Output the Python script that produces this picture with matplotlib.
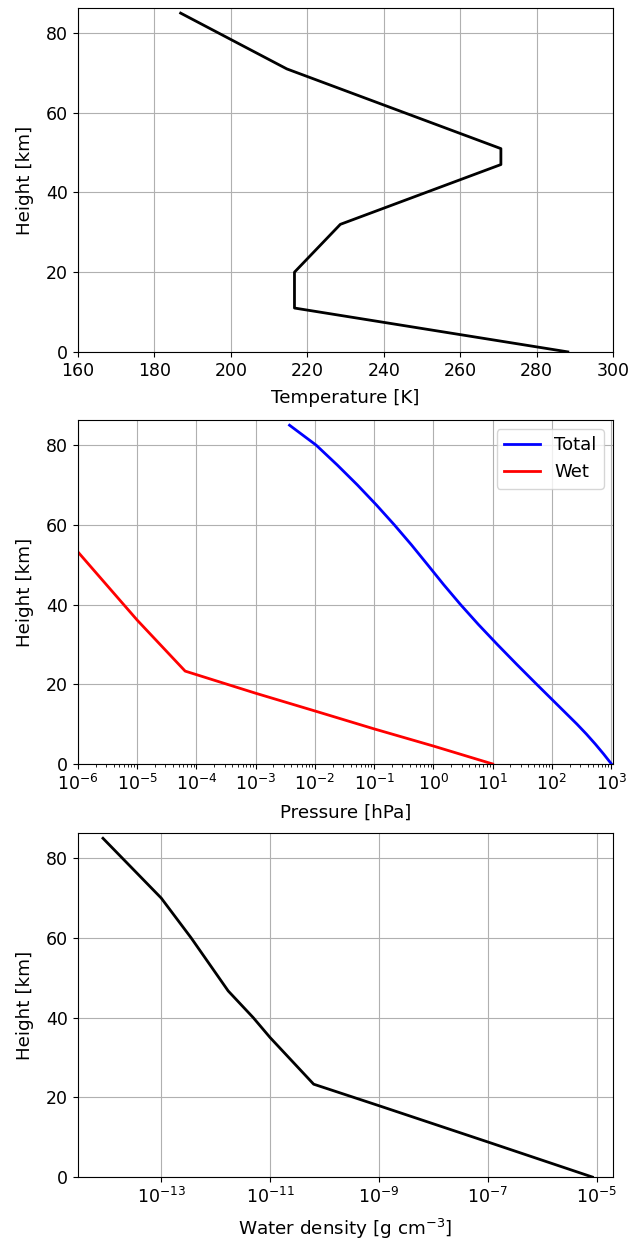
import matplotlib
matplotlib.use('Agg')
import matplotlib.pyplot as plt
from matplotlib.ticker import LogLocator, NullLocator
import numpy as np

plt.rcParams['font.size'] = 12.5
plt.rcParams['axes.labelsize'] = 13.2

# temperature profile
heights_T = [0, 11, 20, 32, 47, 51, 71, 85]
temps = [288.15, 216.65, 216.65, 228.65, 270.65, 270.65, 214.65, 186.87]

# pressure profiles [hPa]
heights_p = [0, 2.5, 5, 7.5, 10, 15, 20, 25, 30, 35, 40, 45, 50, 55, 60, 65, 70, 75, 80, 85]
p_total = [1013.25, 746.9, 540.5, 383.0, 265.0, 121.1, 55.3, 25.5, 11.97, 5.75, 2.87,
           1.49, 0.798, 0.425, 0.219, 0.109, 0.0522, 0.0239, 0.0105, 0.00373]
heights_w = [0, 4.5, 8.8, 13.3, 17.75, 23.3, 36.1, 53.2, 60, 70, 85]
log_p_wet = [1.0, 0.0, -1.0, -2.0, -3.0, -4.19, -5.0, -6.0, -6.45, -7.04, -8.18]

# water density [g cm^-3]
heights_rho = [0, 8.8, 17.9, 23.3, 35, 40, 46.7, 60, 70, 85]
log_rho = [-5.08, -7.0, -9.0, -10.2, -11.0, -11.31, -11.77, -12.45, -13.0, -14.07]

fig = plt.figure(figsize=(6.44, 12.39), dpi=100)
ax1 = fig.add_axes([0.121, 0.716, 0.831, 0.2776])
ax2 = fig.add_axes([0.121, 0.3834, 0.831, 0.2776])
ax3 = fig.add_axes([0.121, 0.050, 0.831, 0.2776])

ax1.plot(temps, heights_T, color='k', lw=2)
ax1.set_xlim(160, 300)
ax1.set_xlabel('Temperature [K]', labelpad=7)

ax2.plot(p_total, heights_p, color='b', lw=2, label='Total')
ax2.plot(10 ** np.array(log_p_wet), heights_w, color='r', lw=2, label='Wet')
ax2.set_xscale('log')
ax2.set_xlim(1e-6, 1.08e3)
ax2.set_xticks([10.0 ** k for k in range(-6, 4)])
ax2.xaxis.set_minor_locator(LogLocator(base=10, subs=np.arange(2, 10), numticks=30))
ax2.set_xlabel('Pressure [hPa]', labelpad=7)
ax2.legend(loc='upper right', fontsize=13)

ax3.plot(10 ** np.array(log_rho), heights_rho, color='k', lw=2)
ax3.set_xscale('log')
ax3.set_xlim(10 ** -14.53, 10 ** -4.7)
ax3.set_xticks([10.0 ** k for k in range(-13, -4, 2)])
ax3.xaxis.set_minor_locator(NullLocator())
ax3.set_xlabel('Water density [g cm$^{-3}$]', labelpad=7)

for ax in (ax1, ax2, ax3):
    ax.set_ylim(0, 86.3)
    ax.set_yticks([0, 20, 40, 60, 80])
    ax.set_ylabel('Height [km]', labelpad=9)
    ax.grid(True)

fig.savefig('out.png', dpi=100)
